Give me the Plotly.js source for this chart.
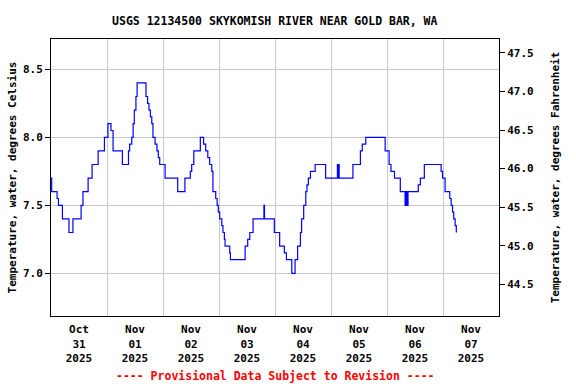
<!DOCTYPE html>
<html>
<head>
<meta charset="utf-8">
<script src="https://cdn.plot.ly/plotly-3.0.1.min.js"></script>
<style>html,body{margin:0;padding:0;background:#fff;}#chart{width:576px;height:384px;}</style>
</head>
<body>
<div id="chart"></div>
<script>
// Hours after 2025-10-31 00:00 at which the reading changes, and the reading (deg C)
const hoursFromStart = [
  0, 0.3, 2.6, 3.2, 4.9, 7.7, 9.4, 12.9, 13.7, 15.9, 17.6, 20.2, 22.9, 24.4, 25.7, 26.6,
  30.6, 33.2, 33.7, 34.6, 35.2, 35.7, 36.4, 36.9, 40.7, 41.4, 42.0, 42.6, 43.2, 43.7, 44.6,
  45.4, 46.0, 46.6, 48.9, 54.3, 57.4, 59.7, 60.3, 61.2, 64.0, 65.4, 66.3, 67.2, 68.0, 68.9,
  69.4, 70.6, 71.2, 71.7, 72.3, 73.2, 73.7, 74.3, 74.6, 76.6, 76.9, 83.2, 84.3, 85.2, 86.6,
  91.25, 91.5, 95.7, 98.0, 100.0, 100.9, 103.2, 104.6, 105.7, 106.9, 107.4, 108.3, 109.2,
  109.7, 110.3, 111.2, 113.2, 117.7, 122.75, 123.0, 123.25, 123.5, 129.4, 132.6, 133.4,
  134.9, 143.2, 144.9, 145.7, 147.2, 149.7, 151.75, 152.0, 152.25, 152.5, 152.75,
  153.0, 157.4, 158.3, 160.0, 167.2, 167.8, 168.9, 170.9, 171.5, 172.1, 172.6, 173.2, 173.7
];
const tempC = [
  7.7, 7.6, 7.55, 7.5, 7.4, 7.3, 7.4, 7.5, 7.6, 7.7, 7.8, 7.9, 8.0, 8.1, 8.05, 7.9,
  7.8, 7.9, 7.95, 8.0, 8.1, 8.2, 8.3, 8.4, 8.3, 8.25, 8.2, 8.15, 8.1, 8.0, 7.95,
  7.9, 7.85, 7.8, 7.7, 7.6, 7.7, 7.75, 7.8, 7.9, 8.0, 7.95, 7.9, 7.85, 7.8, 7.75,
  7.6, 7.55, 7.5, 7.45, 7.4, 7.35, 7.3, 7.25, 7.2, 7.15, 7.1, 7.2, 7.25, 7.3, 7.4,
  7.5, 7.4, 7.3, 7.2, 7.15, 7.1, 7.0, 7.1, 7.2, 7.3, 7.4, 7.5, 7.6,
  7.65, 7.7, 7.75, 7.8, 7.7, 7.8, 7.7, 7.8, 7.7, 7.8, 7.9, 7.95,
  8.0, 7.9, 7.8, 7.75, 7.7, 7.6, 7.5, 7.6, 7.5, 7.6, 7.5,
  7.6, 7.65, 7.7, 7.8, 7.75, 7.7, 7.6, 7.55, 7.5, 7.45, 7.4, 7.35, 7.3
];
const startTime = "2025-10-31T00:00:00";
const endTime = "2025-11-08T00:00:00";
const leftTicks = [7.0, 7.5, 8.0, 8.5];
const rightTicks = [44.5, 45.0, 45.5, 46.0, 46.5, 47.0, 47.5];

const base = new Date(startTime + "Z").getTime();
function fmt(ms){
  const d = new Date(ms);
  const p = n => String(n).padStart(2, "0");
  return d.getUTCFullYear() + "-" + p(d.getUTCMonth()+1) + "-" + p(d.getUTCDate()) + " " +
         p(d.getUTCHours()) + ":" + p(d.getUTCMinutes()) + ":" + p(d.getUTCSeconds());
}
const times = hoursFromStart.map(h => fmt(base + h * 3600000));
const tempF = tempC.map(c => c * 1.8 + 32);

const FONT = "DejaVu Sans Mono, Liberation Mono, monospace";
const tickFont = {family: FONT, size: 11, color: "#000", weight: "bold"};

const traces = [
  {x: times, y: tempC, type: "scatter", mode: "lines", line: {color: "#0000FF", width: 1.2, shape: "hv"}, hoverinfo: "skip", showlegend: false},
  {x: times, y: tempF, type: "scatter", mode: "lines", yaxis: "y2", line: {color: "rgba(0,0,0,0)", width: 0, shape: "hv"}, hoverinfo: "skip", showlegend: false}
];

const layout = {
  width: 576, height: 384,
  margin: {l: 51, r: 77, t: 39, b: 68, pad: 0},
  paper_bgcolor: "#fff", plot_bgcolor: "#fff",
  showlegend: false,
  title: {text: "USGS 12134500 SKYKOMISH RIVER NEAR GOLD BAR, WA", font: {family: FONT, size: 11.5, color: "#000", weight: "bold"}, x: 0.477, xanchor: "center", y: 0.945, yanchor: "middle"},
  xaxis: {
    type: "date", range: [startTime.replace("T", " "), endTime.replace("T", " ")],
    tick0: "2025-10-31", dtick: 86400000, ticklabelmode: "period",
    tickformat: "%b<br>%d<br>%Y", ticks: "", tickfont: tickFont, ticklabelstandoff: 3,
    showgrid: true, gridcolor: "#c8c8c8", gridwidth: 1,
    showline: true, linecolor: "#000", linewidth: 1, mirror: true, zeroline: false
  },
  yaxis: {
    range: [6.686, 8.723], tickvals: leftTicks, ticktext: leftTicks.map(v => v.toFixed(1)),
    ticks: "outside", ticklen: 5, tickcolor: "#000", tickfont: tickFont,
    showgrid: true, gridcolor: "#c8c8c8", gridwidth: 1,
    showline: true, linecolor: "#000", linewidth: 1, mirror: true, zeroline: false,
    title: {text: "Temperature, water, degrees Celsius", font: {family: FONT, size: 11, color: "#000", weight: "bold"}, standoff: 4}
  },
  yaxis2: {
    overlaying: "y", side: "right", range: [44.09, 47.68],
    tickvals: rightTicks, ticktext: rightTicks.map(v => v.toFixed(1)),
    ticks: "outside", ticklen: 5, tickcolor: "#000", tickfont: tickFont,
    showgrid: false, zeroline: false, showline: true, linecolor: "#000", linewidth: 1,
    title: {text: "Temperature, water, degrees Fahrenheit", font: {family: FONT, size: 11, color: "#000", weight: "bold"}, standoff: 18}
  },
  annotations: [{
    text: "---- Provisional Data Subject to Revision ----", xref: "paper", yref: "paper",
    x: 0.502, y: -0.216, xanchor: "center", yanchor: "middle", showarrow: false,
    font: {family: FONT, size: 11.5, color: "#FF0000", weight: "bold"}
  }]
};

Plotly.newPlot("chart", traces, layout, {staticPlot: true, displayModeBar: false});
</script>
</body>
</html>
